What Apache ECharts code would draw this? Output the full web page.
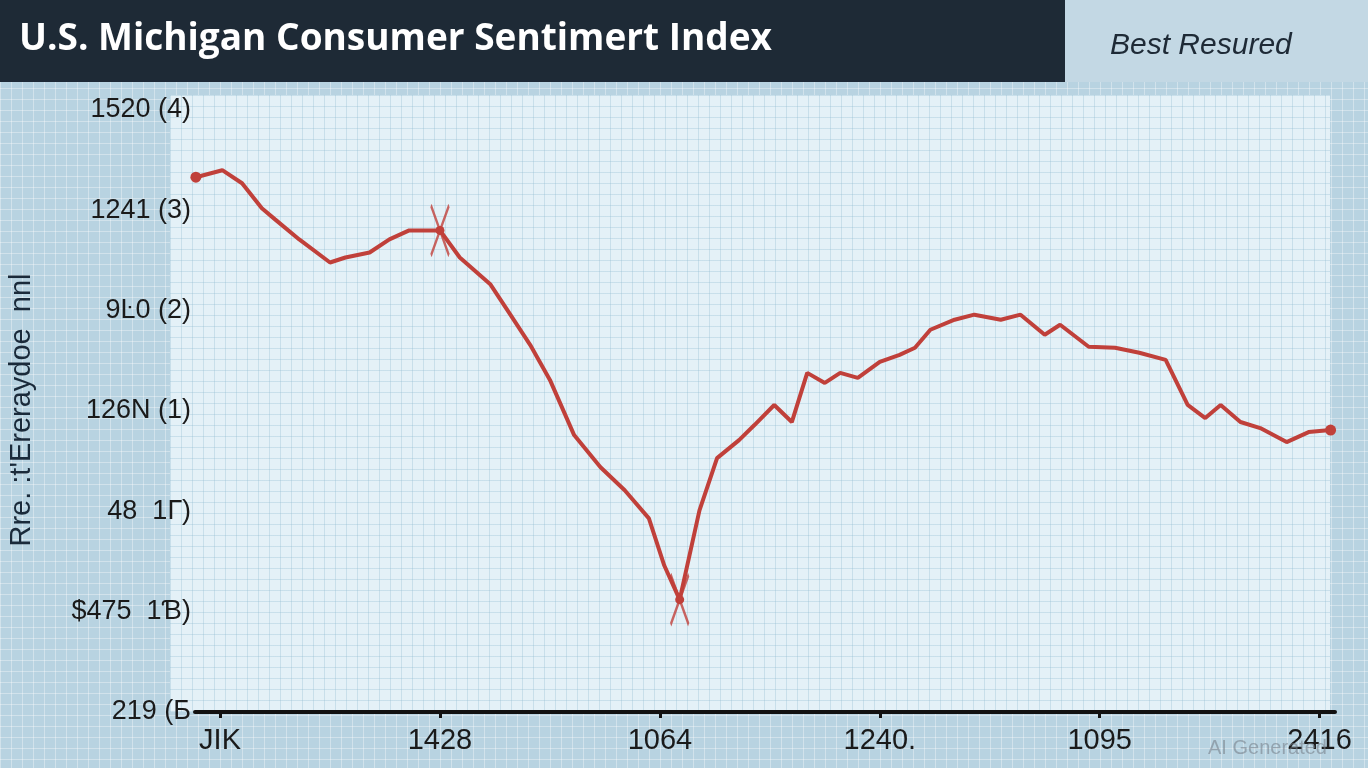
<!DOCTYPE html>
<html><head><meta charset="utf-8">
<script src="https://cdn.jsdelivr.net/npm/echarts@6/dist/echarts.min.js"></script>
<style>
html,body{margin:0;padding:0;width:1368px;height:768px;overflow:hidden;background:#b8d3e1;}
#bg{position:absolute;left:0;top:0;width:1368px;height:768px;
 background-color:#b8d3e1;
 background-image:linear-gradient(rgba(255,255,255,0.35) 1px,transparent 1px),linear-gradient(90deg,rgba(255,255,255,0.35) 1px,transparent 1px);
 background-size:11px 11px;}
#panel{position:absolute;left:170px;top:95px;width:1160px;height:617px;background-color:#e4f1f7;
 background-image:linear-gradient(rgba(150,190,210,0.35) 1px,transparent 1px),linear-gradient(90deg,rgba(150,190,210,0.35) 1px,transparent 1px);
 background-size:11px 11px;}
#hdr{position:absolute;left:0;top:0;width:1065px;height:82px;background:#1e2a36;}
#hdr2{position:absolute;left:1065px;top:0;width:303px;height:82px;background:#c3d8e4;}
#chart{position:absolute;left:0;top:0;width:1368px;height:768px;}
</style></head><body>
<div id="bg"></div><div id="panel"></div><div id="hdr"></div><div id="hdr2"></div>
<div id="chart"></div>
<script>
const title = "U.S. Michigan Consumer Sentimert Index";
const badge = "Best Resured";
const yAxisName = "Rre. :t'Ereraydoe  nnl";
const xTickValues = [0, 10, 20, 30, 40, 50];
const xTickLabels = ["JIK", "1428", "1064", "1240.", "1095", "2416"];
const yTickValues = [0, 1, 2, 3, 4, 5, 6];
const yTickLabels = ["219 (Б", "$475  1Ɓ)", "48  1Г)", "126N (1)", "9Ŀ0 (2)", "1241 (3)", "1520 (4)"];
const xs = [-1.1,0.1,1.0,1.9,2.5,3.6,5.0,5.7,6.8,7.7,8.6,10,10.9,12.3,13.2,14.1,15,16.1,17.3,18.4,19.5,20.2,20.9,21.8,22.6,23.6,24.3,25.2,26,26.7,27.5,28.2,29,30,30.9,31.6,32.3,33.4,34.3,35.5,36.4,37.5,38.2,39.5,40.7,41.8,43,44,44.8,45.5,46.4,47.3,48.5,49.5,50.5];
const ys = [5.33,5.40,5.27,5.02,4.91,4.71,4.48,4.53,4.58,4.71,4.80,4.80,4.53,4.26,3.96,3.66,3.31,2.76,2.44,2.21,1.93,1.46,1.12,2.01,2.53,2.71,2.86,3.06,2.89,3.38,3.28,3.38,3.33,3.49,3.56,3.63,3.81,3.91,3.96,3.91,3.96,3.76,3.86,3.64,3.63,3.58,3.51,3.06,2.93,3.06,2.89,2.83,2.69,2.79,2.81];
const dotIdx = [0, xs.length-1];
const crossIdx = [11, 22];

const red = '#c0403a';
const font = 'Liberation Sans';
const crossPath = 'path://M0,0 L10,30 M10,0 L0,30 Z';
const data = xs.map((x,i)=>{
  const d = {value:[x, ys[i]]};
  if (dotIdx.includes(i)) d.symbol='circle', d.symbolSize=11;
  else if (crossIdx.includes(i)) d.symbol='circle', d.symbolSize=9;
  else d.symbol='none';
  return d;
});
const crossData = crossIdx.map(i=>({value:[xs[i], ys[i]]}));

const chart = echarts.init(document.getElementById('chart'));
chart.setOption({
  backgroundColor:'transparent',
  title:[
    {text:title,left:14,top:16,textStyle:{color:'#fff',fontSize:37,fontWeight:'bold',fontFamily:'Open Sans'}},
    {text:badge,left:1105,top:26,textStyle:{color:'#1e2a36',fontSize:30,fontStyle:'italic',fontWeight:'normal',fontFamily:font}},
    {text:'AI Generated',left:1203,top:733,textStyle:{color:'rgba(120,130,140,0.6)',fontSize:20,fontWeight:'normal',fontFamily:font}}
  ],
  graphic:[{type:'text',x:22,y:410,rotation:Math.PI/2,
    style:{text:yAxisName,fill:'#1a2a3a',font:'29px "Liberation Sans"',align:'center',verticalAlign:'middle'}}],
  grid:{left:195,right:33,top:110,bottom:56,outerBoundsMode:'none',containLabel:false},
  xAxis:{type:'value',min:-1.14,max:50.7,
    axisLine:{show:true,onZero:false,lineStyle:{color:'#111',width:4}},
    axisTick:{show:true,customValues:xTickValues,length:6,lineStyle:{color:'#111',width:3}},
    axisLabel:{customValues:xTickValues,formatter:v=>xTickLabels[xTickValues.indexOf(v)],color:'#1a1a1a',fontSize:29,margin:14,fontFamily:font},
    splitLine:{show:false}},
  yAxis:{type:'value',min:0,max:6,
    axisLine:{show:false},axisTick:{show:false},
    axisLabel:{customValues:yTickValues,formatter:v=>yTickLabels[yTickValues.indexOf(v)],color:'#1a1a1a',fontSize:27,margin:4,align:'right',fontFamily:font},
    splitLine:{show:false}},
  series:[
    {type:'line',data:data,lineStyle:{color:red,width:4},itemStyle:{color:red},smooth:false,z:3},
    {type:'scatter',data:crossData,symbol:crossPath,symbolSize:[18,50],itemStyle:{color:'transparent',borderColor:red,borderWidth:3},z:4}
  ]
});
</script></body></html>
